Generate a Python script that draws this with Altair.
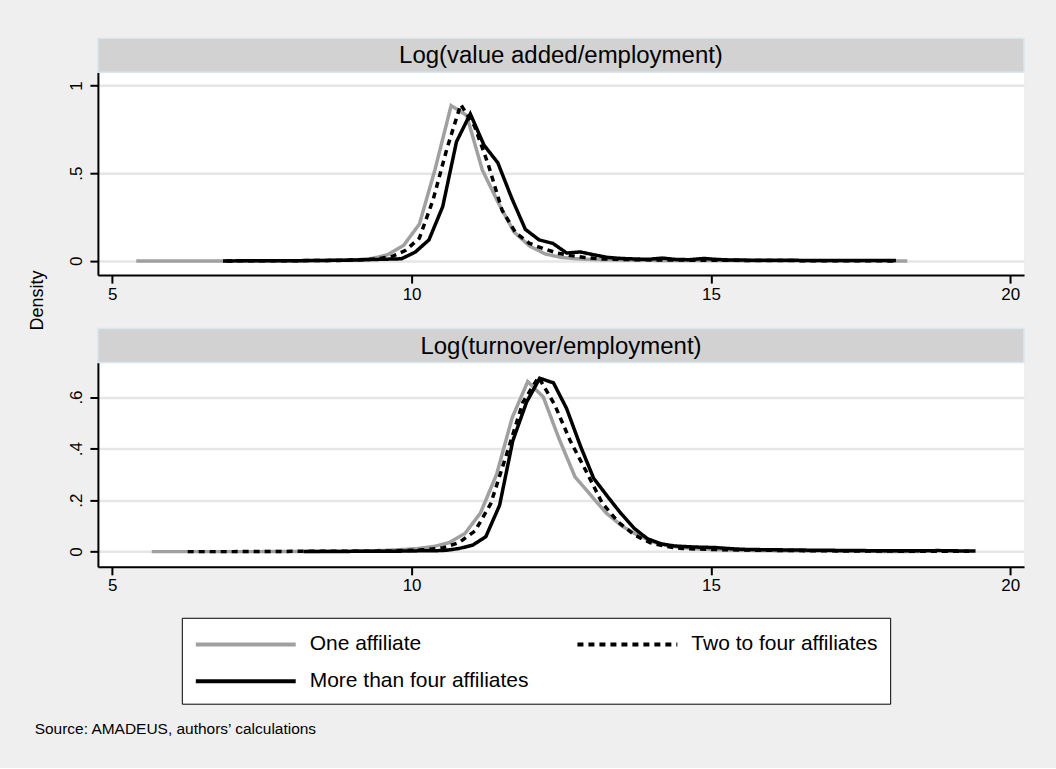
import altair as alt
import pandas as pd

# Series and panel labels
SERIES = ["One affiliate", "Two to four affiliates", "More than four affiliates"]
SERIES_COLORS = {"One affiliate": "#a0a0a0", "Two to four affiliates": "#000000",
                 "More than four affiliates": "#000000"}
SERIES_DASHES = {"One affiliate": [1, 0], "Two to four affiliates": [6, 5],
                 "More than four affiliates": [1, 0]}
# the legend grid fills column by column: this order puts
# "One" and "Two" on the first row and "More" on the second
LEGEND_ORDER = ["One affiliate", "More than four affiliates", "Two to four affiliates"]
PANEL_TITLES = ["Log(value added/employment)", "Log(turnover/employment)"]
Y_TITLE = "Density"
SOURCE = "Source: AMADEUS, authors\u2019 calculations"
X_TICKS = [5, 10, 15, 20]
VA_Y_TICKS = [0, 0.5, 1]
TO_Y_TICKS = [0, 0.2, 0.4, 0.6]

# Kernel density estimates, log(value added / employment)
VA_ONE_X = [5.40, 6.45, 7.50, 8.56, 9.08, 9.34, 9.60, 9.87, 10.13, 10.39, 10.66, 10.92,
            11.18, 11.45, 11.71, 11.97, 12.23, 12.50, 12.76, 13.02, 13.55, 14.07, 15.00,
            16.00, 17.00, 18.28]
VA_ONE_Y = [0.0, 0.0, 0.0, 0.002, 0.006, 0.014, 0.035, 0.09, 0.21, 0.52, 0.886, 0.83,
            0.52, 0.33, 0.165, 0.085, 0.04, 0.02, 0.012, 0.008, 0.005, 0.003, 0.002,
            0.001, 0.001, 0.0]

VA_TWO_X = [6.90, 8.00, 8.80, 9.21, 9.44, 9.67, 9.90, 10.13, 10.36, 10.59, 10.82, 11.05,
            11.28, 11.51, 11.74, 11.97, 12.20, 12.43, 12.66, 12.89, 13.12, 13.58, 14.04,
            15.00, 16.00, 17.00, 18.10]
VA_TWO_Y = [0.0, 0.001, 0.003, 0.006, 0.012, 0.025, 0.06, 0.13, 0.35, 0.64, 0.892, 0.77,
            0.55, 0.29, 0.16, 0.10, 0.07, 0.045, 0.03, 0.02, 0.012, 0.008, 0.005, 0.004,
            0.002, 0.001, 0.0]

VA_MORE_X = [6.85, 8.00, 8.90, 9.37, 9.60, 9.83, 10.06, 10.29, 10.52, 10.75, 10.98, 11.21,
             11.44, 11.67, 11.90, 12.13, 12.36, 12.59, 12.82, 13.04, 13.27, 13.50, 13.73,
             13.96, 14.19, 14.42, 14.65, 14.88, 15.11, 15.34, 15.80, 16.50, 17.20, 18.09]
VA_MORE_Y = [0.0, 0.001, 0.004, 0.008, 0.010, 0.012, 0.05, 0.12, 0.31, 0.68, 0.839, 0.66,
             0.56, 0.36, 0.18, 0.12, 0.10, 0.045, 0.051, 0.035, 0.02, 0.014, 0.011, 0.009,
             0.016, 0.008, 0.007, 0.014, 0.008, 0.005, 0.004, 0.003, 0.002, 0.002]

# Kernel density estimates, log(turnover / employment)
TO_ONE_X = [5.66, 6.50, 7.50, 8.50, 9.07, 9.33, 9.59, 9.85, 10.11, 10.37, 10.63, 10.89,
            11.15, 11.42, 11.68, 11.94, 12.20, 12.46, 12.73, 12.99, 13.25, 13.51, 13.77,
            14.03, 14.30, 14.56, 14.82, 15.30, 16.00, 17.00, 18.48]
TO_ONE_Y = [0.0, 0.0, 0.0, 0.001, 0.002, 0.003, 0.005, 0.008, 0.012, 0.02, 0.035, 0.07,
            0.15, 0.30, 0.52, 0.66, 0.60, 0.44, 0.29, 0.22, 0.15, 0.10, 0.065, 0.038,
            0.022, 0.015, 0.01, 0.006, 0.004, 0.002, 0.0]

TO_TWO_X = [6.26, 7.00, 8.00, 8.93, 9.46, 9.73, 9.99, 10.26, 10.53, 10.79, 11.06, 11.32,
            11.59, 11.86, 12.12, 12.39, 12.65, 12.92, 13.18, 13.45, 13.72, 13.98, 14.25,
            14.52, 14.78, 15.30, 16.00, 17.00, 18.00, 19.31]
TO_TWO_Y = [0.0, 0.0, 0.001, 0.001, 0.002, 0.003, 0.005, 0.008, 0.015, 0.035, 0.08, 0.185,
            0.38, 0.58, 0.677, 0.57, 0.43, 0.31, 0.19, 0.115, 0.065, 0.035, 0.02, 0.012,
            0.01, 0.007, 0.005, 0.003, 0.002, 0.001]

TO_MORE_X = [8.20, 9.00, 9.89, 10.12, 10.34, 10.57, 10.79, 11.02, 11.24, 11.47, 11.69,
             11.92, 12.14, 12.37, 12.59, 12.82, 13.04, 13.27, 13.49, 13.72, 13.94, 14.17,
             14.39, 14.62, 14.84, 15.07, 15.29, 15.52, 15.74, 16.50, 17.50, 18.30, 18.80,
             19.42]
TO_MORE_Y = [0.0, 0.001, 0.002, 0.003, 0.003, 0.005, 0.012, 0.025, 0.058, 0.18, 0.43,
             0.58, 0.673, 0.655, 0.555, 0.41, 0.285, 0.215, 0.15, 0.09, 0.05, 0.03, 0.022,
             0.019, 0.017, 0.016, 0.012, 0.009, 0.008, 0.006, 0.004, 0.003, 0.004, 0.002]


def long_frame(parts):
    rows = []
    for series, xs, ys in parts:
        for x, y in zip(xs, ys):
            rows.append({"series": series, "x": x, "y": y})
    return pd.DataFrame(rows)


va_df = long_frame([(SERIES[0], VA_ONE_X, VA_ONE_Y),
                    (SERIES[1], VA_TWO_X, VA_TWO_Y),
                    (SERIES[2], VA_MORE_X, VA_MORE_Y)])
to_df = long_frame([(SERIES[0], TO_ONE_X, TO_ONE_Y),
                    (SERIES[1], TO_TWO_X, TO_TWO_Y),
                    (SERIES[2], TO_MORE_X, TO_MORE_Y)])

FONT = "Liberation Sans"
W = 927
HEADER_H = 34
X_DOMAIN = [4.76, 20.23]

# a 100px horizontal stroke drawn from the left edge of a 25px symbol box
legend = alt.Legend(
    title=None, orient="none", legendX=84, legendY=546, columns=2,
    symbolType="M-1,0H7", symbolSize=625, symbolStrokeWidth=4,
    labelFont=FONT, labelFontSize=21, labelColor="#000000", labelLimit=0,
    labelOffset=87, columnPadding=40, rowPadding=12, padding=12,
    fillColor="#ffffff", strokeColor="#000000",
)


def panel(title, df, height, y_domain, y_ticks, y_title, extra=None):
    x_enc = alt.X("x:Q", title=None,
                  scale=alt.Scale(domain=X_DOMAIN, nice=False, zero=False),
                  axis=alt.Axis(values=X_TICKS, grid=False, labelFontSize=17,
                                labelPadding=3, labelFont=FONT))
    y_axis = dict(values=y_ticks, labelAngle=270, labelFontSize=17, labelFont=FONT,
                  labelExpr="replace(toString(datum.value), '0.', '.')",
                  labelPadding=4, grid=True)
    if y_title:
        y_axis.update(titleAngle=270, titleX=-60, titleY=228, titleFontSize=18,
                      titleFont=FONT, titleFontWeight="normal", titleAlign="center",
                      titleBaseline="middle")
    y_enc = alt.Y("y:Q", title=y_title if y_title else None,
                  scale=alt.Scale(domain=y_domain, nice=False, zero=False),
                  axis=alt.Axis(**y_axis))
    color = alt.Color("series:N",
                      scale=alt.Scale(domain=LEGEND_ORDER,
                                      range=[SERIES_COLORS[s] for s in LEGEND_ORDER]),
                      legend=legend)
    dash = alt.StrokeDash("series:N",
                          scale=alt.Scale(domain=LEGEND_ORDER,
                                          range=[SERIES_DASHES[s] for s in LEGEND_ORDER]),
                          legend=legend)

    base = alt.Chart(df)
    # grey first, dotted over it, black on top
    lines = [
        base.transform_filter(alt.datum.series == s)
        .mark_line(strokeWidth=3.5, strokeCap="butt", strokeJoin="miter")
        .encode(x=x_enc, y=y_enc, color=color, strokeDash=dash)
        for s in SERIES
    ]
    one = alt.Data(values=[{}])
    strip = alt.Chart(one).mark_rect(fill="#d2d2d2", stroke="#dae6ee", strokeWidth=1.5).encode(
        x=alt.value(0), x2=alt.value(W), y=alt.value(-HEADER_H), y2=alt.value(0))
    strip_text = alt.Chart(one).mark_text(
        text=title, font=FONT, fontSize=24, color="#000000",
        align="center", baseline="middle").encode(
        x=alt.value(W / 2), y=alt.value(-HEADER_H / 2 + 1))
    layers = [strip, strip_text] + lines
    if extra is not None:
        layers.append(extra)
    return alt.layer(*layers).properties(width=W, height=height)


source_text = alt.Chart(alt.Data(values=[{}])).mark_text(
    text=SOURCE, font=FONT, fontSize=15.5, color="#000000",
    align="left", baseline="middle").encode(x=alt.value(-63.3), y=alt.value(366.5))

top = panel(PANEL_TITLES[0], va_df, 203, [-0.081, 1.076], VA_Y_TICKS, Y_TITLE)
bottom = panel(PANEL_TITLES[1], to_df, 204.5, [-0.059, 0.734], TO_Y_TICKS, None,
               extra=source_text)

chart = alt.vconcat(top, bottom, spacing=87.5, bounds="flush").properties(
    background="#efefef",
    padding={"left": 29, "top": 37, "right": 31, "bottom": 30},
).configure_view(
    fill="#ffffff", stroke=None,
).configure_axis(
    domainColor="#000000", domainWidth=2, tickColor="#000000", tickWidth=2,
    tickSize=8, labelColor="#000000", gridColor="#e6e6e6", gridWidth=2.5,
    titleColor="#000000",
)

chart.save("out.html", embed_options={"renderer": "svg", "actions": False})
